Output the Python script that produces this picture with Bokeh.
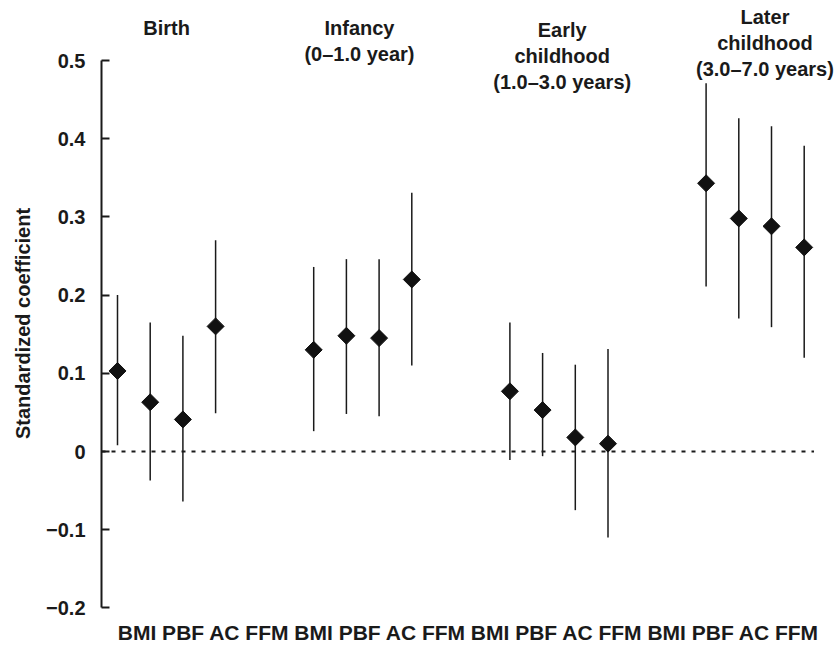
import math
from bokeh.plotting import figure
from bokeh.models import ColumnDataSource, Range1d, FixedTicker
from bokeh.core.properties import value
from bokeh.embed import file_html
from bokeh.resources import INLINE

# ---- data ----
measures = ["BMI", "PBF", "AC", "FFM"]
periods = ["Birth", "Infancy\n(0–1.0 year)", "Early\nchildhood\n(1.0–3.0 years)",
           "Later\nchildhood\n(3.0–7.0 years)"]
coef = [0.103, 0.063, 0.041, 0.160,
        0.130, 0.148, 0.145, 0.220,
        0.077, 0.053, 0.018, 0.010,
        0.343, 0.298, 0.288, 0.261]
ci_low = [0.008, -0.037, -0.064, 0.049,
          0.026, 0.048, 0.045, 0.110,
          -0.011, -0.006, -0.075, -0.110,
          0.211, 0.170, 0.159, 0.120]
ci_high = [0.200, 0.165, 0.148, 0.270,
           0.236, 0.246, 0.246, 0.331,
           0.165, 0.126, 0.111, 0.131,
           0.471, 0.426, 0.416, 0.391]
y_ticks = [-0.2, -0.1, 0, 0.1, 0.2, 0.3, 0.4, 0.5]
y_tick_labels = ["−0.2", "−0.1", "0", "0.1", "0.2", "0.3", "0.4", "0.5"]

# positions: 4 measures per period, gap of 2 slots between periods
xs = [g * 6 + m for g in range(len(periods)) for m in range(len(measures))]

FONT = "Liberation Sans"

# layout: frame spans the figure except the left border
W, H, LEFT = 838, 646, 101
X0_PX, X_STEP = 117.0, 32.7      # pixel of slot 0, pixels per slot
Y0_PX, Y_SCALE = 451.0, 782.0    # pixel of value 0, pixels per unit


def vy(px):
    return (Y0_PX - px) / Y_SCALE


def ix(px):
    return (px - X0_PX) / X_STEP


p = figure(width=W, height=H, output_backend="svg", toolbar_location=None,
           x_range=Range1d(ix(LEFT), ix(W)), y_range=Range1d(vy(H), vy(0)),
           x_axis_type=None, min_border_left=LEFT, min_border_right=0,
           min_border_top=0, min_border_bottom=0)
p.outline_line_color = None
p.xgrid.visible = False
p.ygrid.visible = False
p.background_fill_color = "white"
p.border_fill_color = "white"

ax = p.yaxis[0]
ax.ticker = FixedTicker(ticks=y_ticks, minor_ticks=[])
ax.major_label_overrides = {t: l for t, l in zip(y_ticks, y_tick_labels)}
ax.bounds = (min(y_ticks), max(y_ticks))
ax.axis_line_width = 2
ax.axis_line_color = "#1a1a1a"
ax.major_tick_line_width = 2
ax.major_tick_line_color = "#1a1a1a"
ax.major_tick_in = 8
ax.major_tick_out = 0
ax.minor_tick_line_color = None
ax.major_label_standoff = 16
ax.major_label_text_font = FONT
ax.major_label_text_font_style = "bold"
ax.major_label_text_font_size = "20px"
ax.major_label_text_color = "#1a1a1a"
ax.axis_label = "Standardized coefficient"
ax.axis_label_text_font = FONT
ax.axis_label_text_font_style = "bold"
ax.axis_label_text_font_size = "20px"
ax.axis_label_text_color = "#1a1a1a"
ax.axis_label_standoff = 9

# zero reference line
p.line(x=[ix(LEFT), max(xs) + 0.3], y=[0, 0], line_dash="4 6", line_width=2,
       line_color="#1a1a1a")

src = ColumnDataSource(dict(x=xs, y=coef, lo=ci_low, hi=ci_high))
p.segment(x0="x", y0="lo", x1="x", y1="hi", source=src, line_width=1.5,
          line_color="#1a1a1a")
p.scatter(x="x", y="y", source=src, marker="square", angle=math.pi / 4,
          size=12, fill_color="#111111", line_color="#111111")

# period headers
hdr_x = [1.5, 7.4, 13.6, 19.8]
hdr_y = [vy(16), vy(16), vy(18), vy(5)]
p.text(x=hdr_x, y=hdr_y, text=periods, text_align="center", text_baseline="top",
       text_font=value(FONT), text_font_style="bold", text_font_size="20px",
       text_line_height=1.2, text_color="#1a1a1a")

# measure labels along the bottom
cat_line = " ".join(measures * len(periods))
p.text(x=[ix(469)], y=[vy(632)], text=[cat_line], text_align="center",
       text_baseline="middle", text_font=value(FONT), text_font_style="bold",
       text_font_size="21px", text_color="#1a1a1a")

open("out.html", "w").write(file_html(p, INLINE))
